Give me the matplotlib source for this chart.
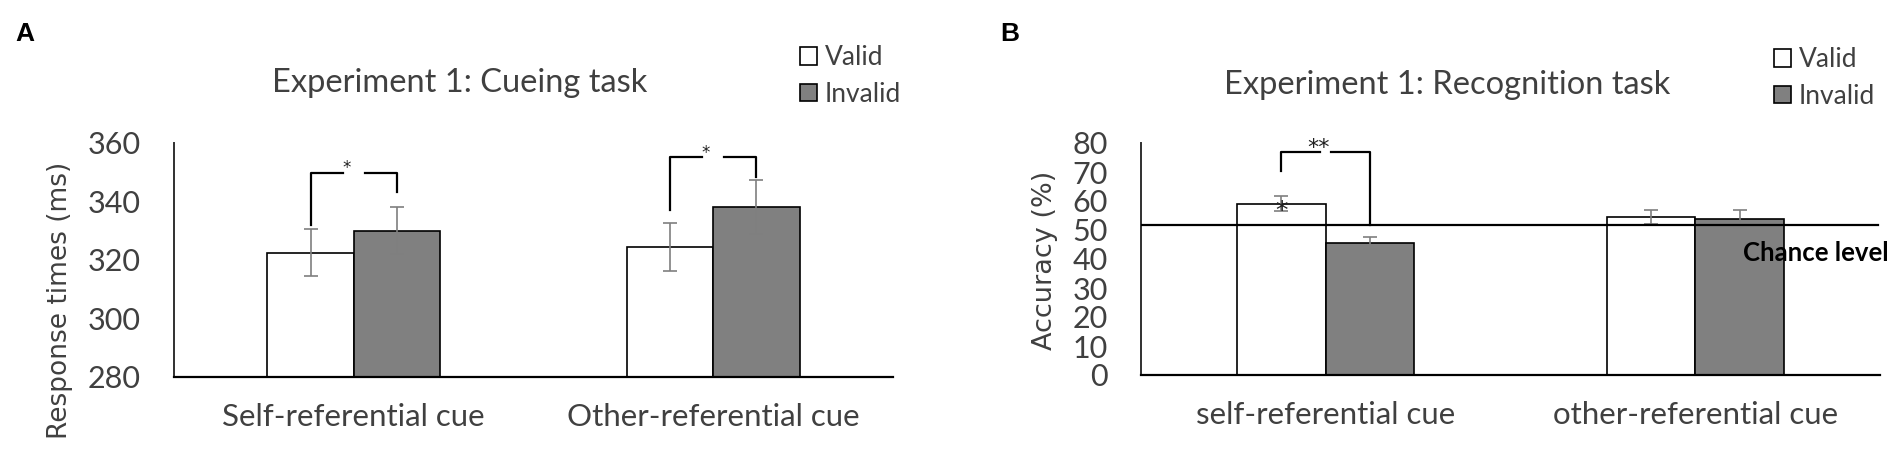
import numpy as np
import matplotlib
matplotlib.use("Agg")
import matplotlib.pyplot as plt

# Data
cues_a = ["Self-referential cue", "Other-referential cue"]
valid_rt = [322.5, 324.3]
invalid_rt = [330.0, 338.2]
valid_rt_err = [8.0, 8.2]
invalid_rt_err = [8.0, 9.3]

cues_b = ["self-referential cue", "other-referential cue"]
valid_acc = [59.0, 54.5]
invalid_acc = [45.5, 53.8]
valid_acc_err = [2.6, 2.5]
invalid_acc_err = [2.2, 3.0]
chance_level = 51.7

# significance brackets: (group, top, left leg end, right leg end, label)
brackets_a = [(0, 349.8, 332.1, 343.3, "*"), (1, 355.2, 337.2, 348.4, "*")]
brackets_b = [(0, 76.9, 70.3, chance_level, "**")]

TXT = "#404040"
FONT = "Lato"
W = 0.24

plt.rcParams["font.family"] = [FONT, "DejaVu Sans"]

fig = plt.figure(figsize=(19.04, 4.58), dpi=100)
axA = fig.add_axes([174 / 1904, 81 / 458, 719 / 1904, 234 / 458])
axB = fig.add_axes([1141 / 1904, 83 / 458, 739 / 1904, 232 / 458])


def draw_panel(ax, cats, v, iv, ve, ie, ylim, step):
    x = np.arange(len(cats))
    bv = ax.bar(x - W / 2, v, W, color="white", edgecolor="black", linewidth=1.2,
                label="Valid", zorder=2)
    bi = ax.bar(x + W / 2, iv, W, color="#808080", edgecolor="black", linewidth=1.2,
                label="Invalid", zorder=2)
    ax.errorbar(x - W / 2, v, yerr=ve, fmt="none", ecolor="#7f7f7f", elinewidth=1.2,
                capsize=5, capthick=1.2, zorder=3)
    ax.errorbar(x + W / 2, iv, yerr=ie, fmt="none", ecolor="#7f7f7f", elinewidth=1.2,
                capsize=5, capthick=1.2, zorder=3)
    ax.set_xlim(-0.5, 1.5)
    ax.set_ylim(*ylim)
    ax.set_yticks(np.arange(ylim[0], ylim[1] + 1, step))
    ax.set_xticks(x)
    ax.set_xticklabels(cats)
    for s in ["top", "right"]:
        ax.spines[s].set_visible(False)
    ax.spines["left"].set_color("#303030")
    ax.spines["left"].set_linewidth(1.4)
    ax.spines["bottom"].set_color("black")
    ax.spines["bottom"].set_linewidth(1.6)
    ax.tick_params(axis="both", length=0, labelcolor=TXT)
    ax.tick_params(axis="y", pad=24, labelsize=22)
    ax.tick_params(axis="x", pad=19, labelsize=22.5)
    return bv, bi


def draw_brackets(ax, brackets, gap, star_dy, star_size):
    for g, top, yl, yr, lab in brackets:
        xl, xr = g - W / 2, g + W / 2
        xm = (xl + xr) / 2
        ax.plot([xl, xl, xm - gap], [yl, top, top], color="black", lw=1.6, zorder=4)
        ax.plot([xm + gap, xr, xr], [top, top, yr], color="black", lw=1.6, zorder=4)
        ax.text(xm - 0.02, top + star_dy, lab, ha="center", va="center",
                fontsize=star_size, color="#202020", family="DejaVu Sans", zorder=5)


draw_panel(axA, cues_a, valid_rt, invalid_rt, valid_rt_err, invalid_rt_err, (280, 360), 20)
draw_panel(axB, cues_b, valid_acc, invalid_acc, valid_acc_err, invalid_acc_err, (0, 80), 10)

draw_brackets(axA, brackets_a, 0.03, 1.5, 12)
draw_brackets(axB, brackets_b, 0.015, 1.5, 16)

# star above chance on self-referential valid bar
axB.text(-W / 2, valid_acc[0] - 2.4, "*", ha="center", va="center", fontsize=18,
         color="#202020", family="DejaVu Sans", zorder=5)

axB.axhline(chance_level, xmin=0, xmax=0.997, color="black", lw=1.6, zorder=4)
axB.text(1.129, chance_level - 9.6, "Chance level", ha="left", va="center",
         fontsize=18.5, fontweight="bold", color="black", clip_on=False)

# titles
fig.text(460 / 1904, 1 - 83 / 458, "Experiment 1: Cueing task", ha="center", va="center",
         fontsize=23.5, color=TXT)
fig.text(1447 / 1904, 1 - 85 / 458, "Experiment 1: Recognition task", ha="center",
         va="center", fontsize=23.5, color=TXT)

# y labels
fig.text(60 / 1904, 1 - 300 / 458, "Response times (ms)", rotation=90, ha="center",
         va="center", fontsize=19, color=TXT, family="DejaVu Sans")
fig.text(1045 / 1904, 1 - 260 / 458, "Accuracy (%)", rotation=90, ha="center",
         va="center", fontsize=19.5, color=TXT, family="DejaVu Sans")

# panel letters
fig.text(15 / 1904, 1 - 34 / 458, "A", ha="left", va="center", fontsize=19,
         fontweight="bold", family="Liberation Sans")
fig.text(1000 / 1904, 1 - 34 / 458, "B", ha="left", va="center", fontsize=19,
         fontweight="bold", family="Liberation Sans")

# legends
for ax, x0, y0 in [(axA, 800, 45), (axB, 1774, 47)]:
    h, l = ax.get_legend_handles_labels()
    leg = ax.legend(h, l, loc="upper left",
                    bbox_to_anchor=(x0 / 1904, 1 - y0 / 458), bbox_transform=fig.transFigure,
                    frameon=False, fontsize=19, handlelength=0.65, handleheight=0.65,
                    handletextpad=0.3, labelspacing=0.45, borderpad=0, borderaxespad=0)
    for t in leg.get_texts():
        t.set_color(TXT)

fig.savefig("out.png", dpi=100)
